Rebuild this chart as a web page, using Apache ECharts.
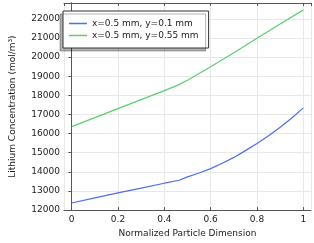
<!DOCTYPE html>
<html>
<head>
<meta charset="utf-8">
<script src="https://cdn.jsdelivr.net/npm/echarts@6/dist/echarts.min.js"></script>
<style>html,body{margin:0;padding:0;background:#fff}#c{width:314px;height:243px}</style>
</head>
<body>
<div id="c"></div>
<script>
var seriesNames = ['x=0.5 mm, y=0.1 mm', 'x=0.5 mm, y=0.55 mm'];
var xBlue = [0, 0.1, 0.2, 0.3, 0.4, 0.464, 0.5, 0.55, 0.6, 0.65, 0.7, 0.75, 0.8, 0.85, 0.9, 0.95, 1.0];
var yBlue = [12370, 12635, 12898, 13150, 13406, 13560, 13740, 13940, 14168, 14450, 14756, 15110, 15487, 15890, 16330, 16820, 17345];
var xGreen = [0, 0.1, 0.2, 0.3, 0.4, 0.464, 0.5, 0.6, 0.7, 0.8, 0.9, 1.0];
var yGreen = [16365, 16835, 17305, 17775, 18245, 18560, 18790, 19500, 20230, 20985, 21730, 22470];
var xAxisName = 'Normalized Particle Dimension';
var yAxisName = 'Lithium Concentration (mol/m³)';

function pairs(xs, ys) { return xs.map(function (x, i) { return [x, ys[i]]; }); }

var FONT = 'DejaVu Sans';
var axisColor = '#555';
var chart = echarts.init(document.getElementById('c'), null, {renderer: 'canvas'});
chart.setOption({
  animation: false,
  textStyle: {fontFamily: FONT},
  grid: {left: 53, right: 3, top: 3, bottom: 27, containLabel: false},
  legend: {
    orient: 'vertical', left: 63, top: 11,
    data: seriesNames,
    icon: 'rect', itemWidth: 18, itemHeight: 1.5, itemGap: 3,
    padding: [8, 10, 8, 6],
    backgroundColor: '#fff', borderColor: '#333', borderWidth: 1,
    shadowColor: 'rgba(0,0,0,0.3)', shadowOffsetX: -3, shadowOffsetY: 3, shadowBlur: 0,
    textStyle: {fontFamily: FONT, fontSize: 9, color: '#222'}
  },
  xAxis: [{
    type: 'value', min: -0.033, max: 1.033, splitNumber: 5,
    name: xAxisName, nameLocation: 'middle', nameGap: 17,
    nameTextStyle: {fontFamily: FONT, fontSize: 9, color: '#222'},
    axisLine: {show: true, lineStyle: {color: axisColor}},
    axisTick: {show: true, inside: true, length: 3, lineStyle: {color: axisColor}},
    axisLabel: {fontFamily: FONT, fontSize: 9, color: '#222', margin: 5, showMinLabel: false, showMaxLabel: false},
    splitLine: {show: true, lineStyle: {color: '#e8e8e8'}}
  }, {
    type: 'value', min: -0.033, max: 1.033, splitNumber: 5, position: 'top',
    axisLine: {show: true, lineStyle: {color: axisColor}},
    axisTick: {show: true, inside: true, length: 3, lineStyle: {color: axisColor}},
    axisLabel: {show: false}, splitLine: {show: false}
  }],
  yAxis: [{
    type: 'value', min: 12000, max: 22830, interval: 1000,
    name: yAxisName, nameLocation: 'middle', nameGap: 47, nameRotate: 90,
    nameTextStyle: {fontFamily: FONT, fontSize: 9, color: '#222'},
    axisLine: {show: true, lineStyle: {color: axisColor}},
    axisTick: {show: true, inside: false, length: 3, lineStyle: {color: axisColor}},
    axisLabel: {fontFamily: FONT, fontSize: 9, color: '#222', margin: 4, showMaxLabel: false,
      formatter: function (v) { return String(v); }},
    splitLine: {show: true, lineStyle: {color: '#e8e8e8'}}
  }, {
    type: 'value', min: 12000, max: 22830, interval: 1000, position: 'right',
    axisLine: {show: true, lineStyle: {color: axisColor}},
    axisTick: {show: true, inside: true, length: 3, lineStyle: {color: axisColor}},
    axisLabel: {show: false}, splitLine: {show: false}
  }],
  series: [{
    name: seriesNames[0], type: 'line', xAxisIndex: 0, yAxisIndex: 0,
    data: pairs(xBlue, yBlue), symbol: 'none', smooth: false,
    lineStyle: {color: '#4d6ef2', width: 1.2}, itemStyle: {color: '#4d6ef2'}
  }, {
    name: seriesNames[1], type: 'line', xAxisIndex: 0, yAxisIndex: 0,
    data: pairs(xGreen, yGreen), symbol: 'none', smooth: false,
    lineStyle: {color: '#5ccf6a', width: 1.2}, itemStyle: {color: '#5ccf6a'}
  }]
});
</script>
</body>
</html>
